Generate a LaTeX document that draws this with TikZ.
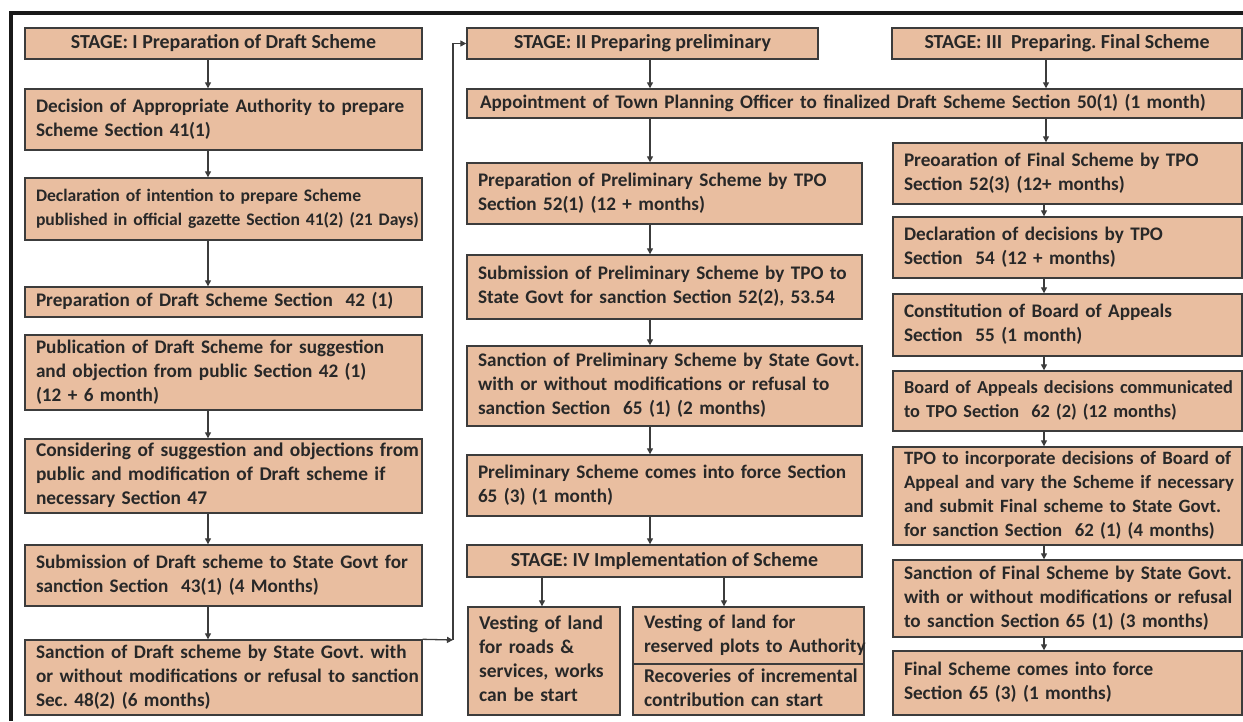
\documentclass[tikz,border=0pt]{standalone}
\usepackage{fontspec}
\setmainfont{Carlito}
\usetikzlibrary{arrows.meta,calc}
\definecolor{boxfill}{RGB}{233,190,160}
\definecolor{boxline}{RGB}{60,60,60}
\definecolor{txt}{RGB}{40,40,40}
\tikzset{
  sz/.style={font=\fontsize{#1}{24}\selectfont\bfseries\frenchspacing},
  box/.style={draw=boxline, line width=1.4pt, fill=boxfill, rectangle, inner xsep=11pt, inner ysep=0pt,
    text=txt, sz=19.2},
  hdbox/.style={box, align=center, sz=19.9},
  arr/.style={draw=boxline, line width=1.3pt, -{Triangle[length=6pt,width=6pt]}},
  frameline/.style={line width=3.5pt, black!90}
}
\newcommand\bx[7][]{%
  \pgfmathsetmacro\bw{#5-#3}\pgfmathsetmacro\bh{#6-#4}\pgfmathsetmacro\tw{#5-#3-22}%
  \node[box, minimum width=\bw pt, minimum height=\bh pt, text width=\tw pt, align=left, #1]
    (#2) at ({(#3+#5)/2},{(#4+#6)/2}) {\begin{tabular}{@{}l@{}}#7\end{tabular}};}
\newcommand\hd[6]{%
  \pgfmathsetmacro\bw{#4-#2}\pgfmathsetmacro\bh{#5-#3}%
  \node[hdbox, minimum width=\bw pt, minimum height=\bh pt]
    (#1) at ({(#2+#4)/2},{(#3+#5)/2}) {#6};}
\begin{document}
\begin{tikzpicture}[x=1pt,y=-1pt]
\useasboundingbox (0,0) rectangle (1243,721);
\draw[frameline] (11,721) -- (11,13) -- (1243,13);
% column 1
\hd{st1}{25}{28}{422}{59}{STAGE: I Preparation of Draft Scheme}
\bx{d1}{25}{89}{422}{150}{Decision of Appropriate Authority to prepare\\Scheme Section 41(1)}
\bx[sz=17.6]{d2}{25}{178}{422}{240}{Declaration of intention to prepare Scheme\\published in official gazette Section 41(2) (21 Days)}
\bx{d3}{25}{287}{422}{317}{Preparation of Draft Scheme Section\ \ 42 (1)}
\bx{d4}{25}{335}{422}{410}{Publication of Draft Scheme for suggestion\\and objection from public Section 42 (1)\\(12 + 6 month)}
\bx[sz=19.4]{d5}{25}{439}{422}{513}{Considering of suggestion and objections from\\public and modification of Draft scheme if\\necessary Section 47}
\bx{d6}{25}{545}{422}{606}{Submission of Draft scheme to State Govt for\\sanction Section\ \ 43(1) (4 Months)}
\bx{d7}{25}{640}{422}{715}{Sanction of Draft scheme by State Govt. with\\or without modifications or refusal to sanction\\Sec. 48(2) (6 months)}
% column 2
\hd{st2}{467}{28}{818}{59}{STAGE: II Preparing preliminary}
\bx{tpo}{467}{89}{1242}{118}{\hspace*{2pt}Appointment of Town Planning Officer to finalized Draft Scheme Section 50(1) (1 month)}
\bx{p1}{467}{163}{862}{224}{Preparation of Preliminary Scheme by TPO\\Section 52(1) (12 + months)}
\bx{p2}{467}{255}{862}{319}{Submission of Preliminary Scheme by TPO to\\State Govt for sanction Section 52(2), 53.54}
\bx{p3}{467}{346}{862}{426}{Sanction of Preliminary Scheme by State Govt.\\with or without modifications or refusal to\\sanction Section\ \ 65 (1) (2 months)}
\bx{p4}{467}{455}{862}{516}{Preliminary Scheme comes into force Section\\65 (3) (1 month)}
\hd{st4}{467}{545}{862}{577}{STAGE: IV Implementation of Scheme}
\bx[sz=19.5]{v1}{468}{607}{620}{715}{Vesting of land\\for roads \&\\services, works\\can be start}
\bx{v2}{633}{607}{864}{664}{Vesting of land for\\reserved plots to Authority}
\bx[sz=19.5]{v3}{633}{664}{864}{715}{Recoveries of incremental\\contribution can start}
% column 3
\hd{st3}{892}{28}{1242}{59}{STAGE: III\ \ Preparing. Final Scheme}
\bx{f1}{893}{143}{1242}{204}{Preoaration of Final Scheme by TPO\\Section 52(3) (12+ months)}
\bx{f2}{893}{217}{1242}{278}{Declaration of decisions by TPO\\Section\ \ 54 (12 + months)}
\bx{f3}{893}{294}{1242}{356}{Constitution of Board of Appeals\\Section\ \ 55 (1 month)}
\bx[sz=18.3]{f4}{893}{371}{1242}{431}{Board of Appeals decisions communicated\\to TPO Section\ \ 62 (2) (12 months)}
\bx[sz=18.8]{f5}{893}{447}{1242}{545}{TPO to incorporate decisions of Board of\\Appeal and vary the Scheme if necessary\\and submit Final scheme to State Govt.\\for sanction Section\ \ 62 (1) (4 months)}
\bx{f6}{893}{560}{1242}{637}{Sanction of Final Scheme by State Govt.\\with or without modifications or refusal\\to sanction Section 65 (1) (3 months)}
\bx{f7}{893}{651}{1242}{715}{Final Scheme comes into force\\Section 65 (3) (1 months)}
% arrow columns
\coordinate (a1) at (208,0);
\coordinate (a2) at (650,0);
\coordinate (a3) at (1046,0);
\coordinate (a4) at (1044,0);
\coordinate (a5) at (542,0);
\coordinate (a6) at (724,0);
\coordinate (j) at (453,640);
% column 1 arrows
\draw[arr] (st1.south -| a1) -- (d1.north -| a1);
\draw[arr] (d1.south -| a1) -- (d2.north -| a1);
\draw[arr] (d2.south -| a1) -- (d3.north -| a1);
\draw[arr] (d4.south -| a1) -- (d5.north -| a1);
\draw[arr] (d5.south -| a1) -- (d6.north -| a1);
\draw[arr] (d6.south -| a1) -- (d7.north -| a1);
% link to stage II
\draw[arr] (d7.north east) -- (j);
\draw[arr] (j) |- (st2.west);
% column 2 arrows
\draw[arr] (st2.south -| a2) -- (tpo.north -| a2);
\draw[arr] (tpo.south -| a2) -- (p1.north -| a2);
\draw[arr] (p1.south -| a2) -- (p2.north -| a2);
\draw[arr] (p2.south -| a2) -- (p3.north -| a2);
\draw[arr] (p3.south -| a2) -- (p4.north -| a2);
\draw[arr] (p4.south -| a2) -- (st4.north -| a2);
\draw[arr] (st4.south -| a5) -- (v1.north -| a5);
\draw[arr] (st4.south -| a6) -- (v2.north -| a6);
% column 3 arrows
\draw[arr] (st3.south -| a3) -- (tpo.north -| a3);
\draw[arr] (tpo.south -| a3) -- (f1.north -| a3);
\draw[arr] (f1.south -| a4) -- (f2.north -| a4);
\draw[arr] (f2.south -| a4) -- (f3.north -| a4);
\draw[arr] (f3.south -| a4) -- (f4.north -| a4);
\draw[arr] (f4.south -| a4) -- (f5.north -| a4);
\draw[arr] (f5.south -| a4) -- (f6.north -| a4);
\draw[arr] (f6.south -| a4) -- (f7.north -| a4);
\end{tikzpicture}
\end{document}
